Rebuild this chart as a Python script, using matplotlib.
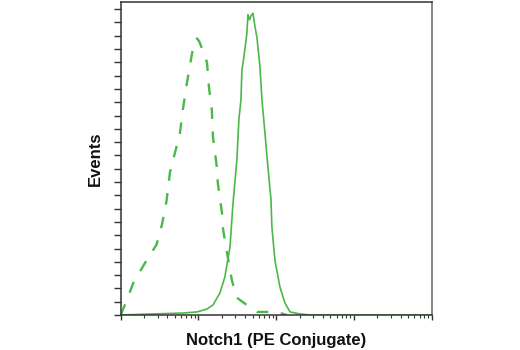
import matplotlib
matplotlib.use("Agg")
import matplotlib.pyplot as plt
from matplotlib.ticker import LogLocator, MultipleLocator, NullFormatter

GREEN = "#4cb847"
SPINE = "#333333"

# isotype control (dashed)
ctrl_x = [1.0, 1.2, 1.45, 2.05, 2.9, 3.4, 3.9, 4.3, 5.1, 5.8, 6.3, 7.1, 8.3,
          9.0, 9.6, 10.2, 11.4, 12.9, 13.7, 14.9, 15.4, 17.3, 17.8, 20.1,
          20.7, 23.3, 27.0, 31.3, 42.0, 57.0, 76.0, 112.0, 138.0]
ctrl_y = [0, 11, 24, 39, 53, 68, 86, 107, 124, 137, 154, 174, 197,
          205, 208, 206, 199, 190, 171, 154, 134, 111, 99, 77,
          65, 47, 26, 13, 7.5, 2.3, 2.3, 1.5, 0]

# Notch1 PE stained cells (solid)
notch_x = [1.0, 6.4, 9.6, 12.9, 15.4, 18.9, 21.9, 25.5, 27.8, 31.3, 33.2,
           35.3, 36.3, 38.5, 42.1, 43.4, 45.5, 47.4, 50.3, 53.4, 56.6, 61.9,
           65.7, 71.8, 78.5, 85.8, 88.3, 96.6, 112.0, 130.0, 151.0, 203.0,
           273.0, 10000.0]
notch_y = [0, 1.5, 2.3, 4.5, 7.5, 16.5, 28.6, 51, 83, 117, 147,
           162, 184, 194, 212, 226, 222, 225, 227, 217, 209, 187,
           162, 137, 111, 87, 66, 41, 21, 9, 2.3, 0.8,
           0, 0]

fig = plt.figure(figsize=(5.2, 3.5), dpi=100)
ax = fig.add_axes([0.232, 0.1, 0.598, 0.895])

ax.plot(ctrl_x, ctrl_y, color=GREEN, lw=1.7, linestyle=(0, (4.9, 5.3)))
ax.plot(notch_x, notch_y, color=GREEN, lw=1.2)

ax.set_xscale("log")
ax.set_xlim(1, 1e4)
ax.set_ylim(0, 235.6)

ax.xaxis.set_major_locator(LogLocator(base=10, numticks=10))
ax.xaxis.set_minor_locator(LogLocator(base=10, subs=range(2, 10), numticks=50))
ax.xaxis.set_major_formatter(NullFormatter())
ax.xaxis.set_minor_formatter(NullFormatter())
ax.yaxis.set_major_locator(MultipleLocator(10))
ax.yaxis.set_major_formatter(NullFormatter())

ax.tick_params(axis="x", which="major", length=3.6, width=1, color=SPINE)
ax.tick_params(axis="x", which="minor", length=2.2, width=0.8, color=SPINE)
ax.tick_params(axis="y", which="major", length=5, width=1, color=SPINE)

for sp in ax.spines.values():
    sp.set_edgecolor(SPINE)
    sp.set_linewidth(1.1)
ax.spines["right"].set_edgecolor("#666666")

font = ["Liberation Sans", "DejaVu Sans"]
ax.set_xlabel("Notch1 (PE Conjugate)", family=font, fontweight="bold",
              fontsize=12, labelpad=5.5, color="#111111")
ax.set_ylabel("Events", family=font, fontweight="bold",
              fontsize=12, labelpad=4.5, color="#111111")

fig.savefig("out.png", dpi=100, facecolor="white")
